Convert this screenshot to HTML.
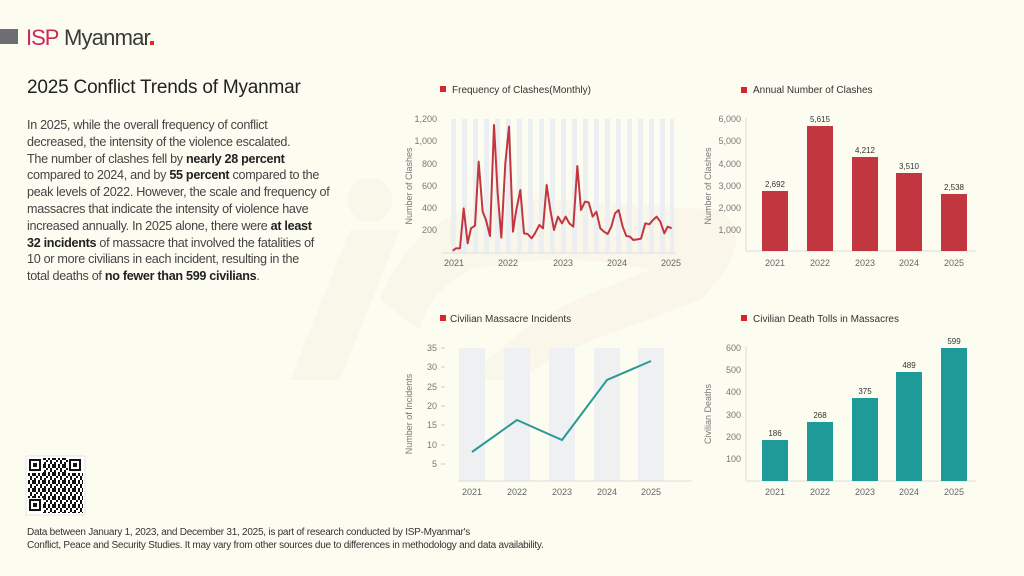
<!DOCTYPE html>
<html><head><meta charset="utf-8"><style>
html,body{margin:0;padding:0;}
body{width:1024px;height:576px;background:#fdfcf1;position:relative;overflow:hidden;font-family:"Liberation Sans",sans-serif;color:#333;}
.t{position:absolute;white-space:nowrap;}
#title{left:27px;top:77px;font-size:19px;color:#222;letter-spacing:-0.2px;}
#body{left:27px;top:117px;font-size:12.6px;line-height:16.8px;color:#444;letter-spacing:-0.3px;}
#body b{color:#222;}
#foot{left:27px;top:526px;font-size:10px;line-height:13px;color:#333;letter-spacing:-0.25px;}
svg{position:absolute;left:0;top:0;}
</style></head><body>
<svg width="1024" height="576" viewBox="0 0 1024 576" font-family="Liberation Sans, sans-serif">
<!-- watermark -->
<g fill="#f6efe3" opacity="0.45">
<path d="M290 380 L350 230 L400 230 L340 380 Z"/>
<path d="M380 300 Q420 190 560 200 L720 210 Q760 240 700 300 L620 330 Q560 350 520 380 L470 380 Q520 320 600 290 L650 270 Q560 250 470 270 Q430 290 420 330 Z"/>
<circle cx="370" cy="200" r="22"/>
</g>
<!-- logo -->
<rect x="0" y="29" width="18" height="15" fill="#6d6e71"/>
<text x="26" y="45" font-size="22" fill="#c8285a" letter-spacing="-1">ISP</text>
<text x="64" y="45" font-size="22" fill="#3a3a3a" letter-spacing="-0.8">Myanmar</text>
<rect x="150" y="41" width="4" height="4" fill="#e02b2b"/>

<!-- Chart 1 -->
<rect x="440" y="86" width="6" height="6" fill="#d9262c"/>
<text x="452" y="93" font-size="10" fill="#333">Frequency of Clashes(Monthly)</text>
<g fill="#eceff1">
<rect x="451" y="119" width="5" height="134"/><rect x="462" y="119" width="5" height="134"/><rect x="473" y="119" width="5" height="134"/><rect x="484" y="119" width="5" height="134"/><rect x="495" y="119" width="5" height="134"/><rect x="506" y="119" width="5" height="134"/><rect x="517" y="119" width="5" height="134"/><rect x="528" y="119" width="5" height="134"/><rect x="539" y="119" width="5" height="134"/><rect x="550" y="119" width="5" height="134"/><rect x="561" y="119" width="5" height="134"/><rect x="572" y="119" width="5" height="134"/><rect x="583" y="119" width="5" height="134"/><rect x="594" y="119" width="5" height="134"/><rect x="605" y="119" width="5" height="134"/><rect x="616" y="119" width="5" height="134"/><rect x="627" y="119" width="5" height="134"/><rect x="638" y="119" width="5" height="134"/><rect x="649" y="119" width="5" height="134"/><rect x="660" y="119" width="5" height="134"/><rect x="670" y="119" width="4" height="134"/>
</g>
<g font-size="9" fill="#777" text-anchor="end">
<text x="437" y="122">1,200</text><text x="437" y="144">1,000</text><text x="437" y="167">800</text><text x="437" y="189">600</text><text x="437" y="211">400</text><text x="437" y="233">200</text>
</g>
<text transform="translate(412,186) rotate(-90)" font-size="9" fill="#777" text-anchor="middle">Number of Clashes</text>
<line x1="442" y1="253" x2="676" y2="253" stroke="#ddd"/>
<g font-size="9" fill="#666" text-anchor="middle">
<text x="454" y="266">2021</text><text x="508" y="266">2022</text><text x="563" y="266">2023</text><text x="617" y="266">2024</text><text x="671" y="266">2025</text>
</g>
<g transform="translate(400,80) scale(0.33333)">
<polyline fill="none" stroke="#c2373f" stroke-width="6" stroke-linejoin="round" points="158,512 168,505 180,505 191,385 203,490 213,445 225,437 236,245 248,395 258,420 270,468 282,135 293,340 304,473 316,250 327,140 339,455 348,395 361,330 372,460 383,462 395,475 405,460 418,435 429,445 440,315 451,390 462,450 474,410 486,430 497,410 508,430 520,440 532,258 543,390 555,365 566,367 578,410 589,395 601,445 612,455 623,462 634,440 645,400 656,390 668,440 679,468 690,470 700,480 712,478 723,476 736,430 748,433 759,420 770,410 781,425 793,460 803,440 815,445"/>
</g>

<!-- Chart 2 -->
<rect x="741" y="87" width="6" height="6" fill="#d9262c"/>
<text x="753" y="93" font-size="10" fill="#333">Annual Number of Clashes</text>
<g font-size="9" fill="#777" text-anchor="end">
<text x="741" y="122">6,000</text><text x="741" y="144">5,000</text><text x="741" y="167">4,000</text><text x="741" y="189">3,000</text><text x="741" y="211">2,000</text><text x="741" y="233">1,000</text>
</g>
<text transform="translate(711,186) rotate(-90)" font-size="9" fill="#777" text-anchor="middle">Number of Clashes</text>
<line x1="746" y1="118" x2="746" y2="251" stroke="#ddd"/>
<line x1="746" y1="251" x2="976" y2="251" stroke="#ddd"/>
<g fill="#c2373f">
<rect x="762" y="191" width="26" height="60"/><rect x="807" y="126" width="26" height="125"/><rect x="852" y="157" width="26" height="94"/><rect x="896" y="173" width="26" height="78"/><rect x="941" y="194" width="26" height="57"/>
</g>
<g font-size="8" fill="#333" text-anchor="middle">
<text x="775" y="187">2,692</text><text x="820" y="122">5,615</text><text x="865" y="153">4,212</text><text x="909" y="169">3,510</text><text x="954" y="190">2,538</text>
</g>
<g font-size="9" fill="#666" text-anchor="middle">
<text x="775" y="266">2021</text><text x="820" y="266">2022</text><text x="865" y="266">2023</text><text x="909" y="266">2024</text><text x="954" y="266">2025</text>
</g>

<!-- Chart 3 -->
<rect x="440" y="315" width="6" height="6" fill="#d9262c"/>
<text x="450" y="322" font-size="10" fill="#333">Civilian Massacre Incidents</text>
<g fill="#eef0f2">
<rect x="459" y="348" width="26" height="133"/><rect x="504" y="348" width="26" height="133"/><rect x="549" y="348" width="26" height="133"/><rect x="594" y="348" width="26" height="133"/><rect x="638" y="348" width="26" height="133"/>
</g>
<g font-size="9" fill="#777" text-anchor="end">
<text x="437" y="351">35</text><text x="437" y="370">30</text><text x="437" y="390">25</text><text x="437" y="409">20</text><text x="437" y="428">15</text><text x="437" y="448">10</text><text x="437" y="467">5</text>
</g>
<g stroke="#ccc"><line x1="441" y1="348" x2="445" y2="348"/><line x1="441" y1="367" x2="445" y2="367"/><line x1="441" y1="387" x2="445" y2="387"/><line x1="441" y1="406" x2="445" y2="406"/><line x1="441" y1="425" x2="445" y2="425"/><line x1="441" y1="445" x2="445" y2="445"/><line x1="441" y1="464" x2="445" y2="464"/></g>
<text transform="translate(412,414) rotate(-90)" font-size="9" fill="#777" text-anchor="middle">Number of Incidents</text>
<line x1="458" y1="481" x2="692" y2="481" stroke="#ddd"/>
<polyline fill="none" stroke="#2a9996" stroke-width="2" points="472,452 517,420 562,440 607,380 651,361"/>
<g font-size="9" fill="#666" text-anchor="middle">
<text x="472" y="495">2021</text><text x="517" y="495">2022</text><text x="562" y="495">2023</text><text x="607" y="495">2024</text><text x="651" y="495">2025</text>
</g>

<!-- Chart 4 -->
<rect x="741" y="315" width="6" height="6" fill="#d9262c"/>
<text x="753" y="322" font-size="10" fill="#333">Civilian Death Tolls in Massacres</text>
<g font-size="9" fill="#777" text-anchor="end">
<text x="741" y="351">600</text><text x="741" y="373">500</text><text x="741" y="395">400</text><text x="741" y="418">300</text><text x="741" y="440">200</text><text x="741" y="462">100</text>
</g>
<text transform="translate(711,414) rotate(-90)" font-size="9" fill="#777" text-anchor="middle">Civilian Deaths</text>
<line x1="746" y1="346" x2="746" y2="481" stroke="#ddd"/>
<line x1="746" y1="481" x2="976" y2="481" stroke="#ddd"/>
<g fill="#1e9a98">
<rect x="762" y="440" width="26" height="41"/><rect x="807" y="422" width="26" height="59"/><rect x="852" y="398" width="26" height="83"/><rect x="896" y="372" width="26" height="109"/><rect x="941" y="348" width="26" height="133"/>
</g>
<g font-size="8" fill="#333" text-anchor="middle">
<text x="775" y="436">186</text><text x="820" y="418">268</text><text x="865" y="394">375</text><text x="909" y="368">489</text><text x="954" y="344">599</text>
</g>
<g font-size="9" fill="#666" text-anchor="middle">
<text x="775" y="495">2021</text><text x="820" y="495">2022</text><text x="865" y="495">2023</text><text x="909" y="495">2024</text><text x="954" y="495">2025</text>
</g>

<!-- QR -->
<defs><pattern id="qr" x="28" y="458" width="10" height="8" patternUnits="userSpaceOnUse">
<rect x="0" y="0" width="2" height="2" fill="#111"/><rect x="4" y="0" width="4" height="2" fill="#111"/><rect x="2" y="2" width="2" height="4" fill="#111"/><rect x="6" y="4" width="2" height="2" fill="#111"/><rect x="8" y="2" width="2" height="2" fill="#111"/><rect x="0" y="6" width="2" height="2" fill="#111"/><rect x="4" y="6" width="4" height="2" fill="#111"/></pattern></defs>
<rect x="26" y="456" width="59" height="59" fill="#fff" stroke="#ccc" stroke-width="0.5"/>
<rect x="28" y="458" width="55" height="55" fill="url(#qr)"/>
<g fill="#fff"><rect x="28" y="458" width="15" height="15"/><rect x="68" y="458" width="15" height="15"/><rect x="28" y="498" width="15" height="15"/></g>
<g fill="none" stroke="#111" stroke-width="2"><rect x="30" y="460" width="10" height="10"/><rect x="70" y="460" width="10" height="10"/><rect x="30" y="500" width="10" height="10"/></g>
<g fill="#111"><rect x="33" y="463" width="4" height="4"/><rect x="73" y="463" width="4" height="4"/><rect x="33" y="503" width="4" height="4"/></g>
</svg>

<div class="t" id="title">2025 Conflict Trends of Myanmar</div>
<div class="t" id="body">In 2025, while the overall frequency of conflict<br>decreased, the intensity of the violence escalated.<br>The number of clashes fell by <b>nearly 28 percent</b><br>compared to 2024, and by <b>55 percent</b> compared to the<br>peak levels of 2022. However, the scale and frequency of<br>massacres that indicate the intensity of violence have<br>increased annually. In 2025 alone, there were <b>at least</b><br><b>32 incidents</b> of massacre that involved the fatalities of<br>10 or more civilians in each incident, resulting in the<br>total deaths of <b>no fewer than 599 civilians</b>.</div>
<div class="t" id="foot">Data between January 1, 2023, and December 31, 2025, is part of research conducted by ISP-Myanmar's<br>Conflict, Peace and Security Studies. It may vary from other sources due to differences in methodology and data availability.</div>
</body></html>
